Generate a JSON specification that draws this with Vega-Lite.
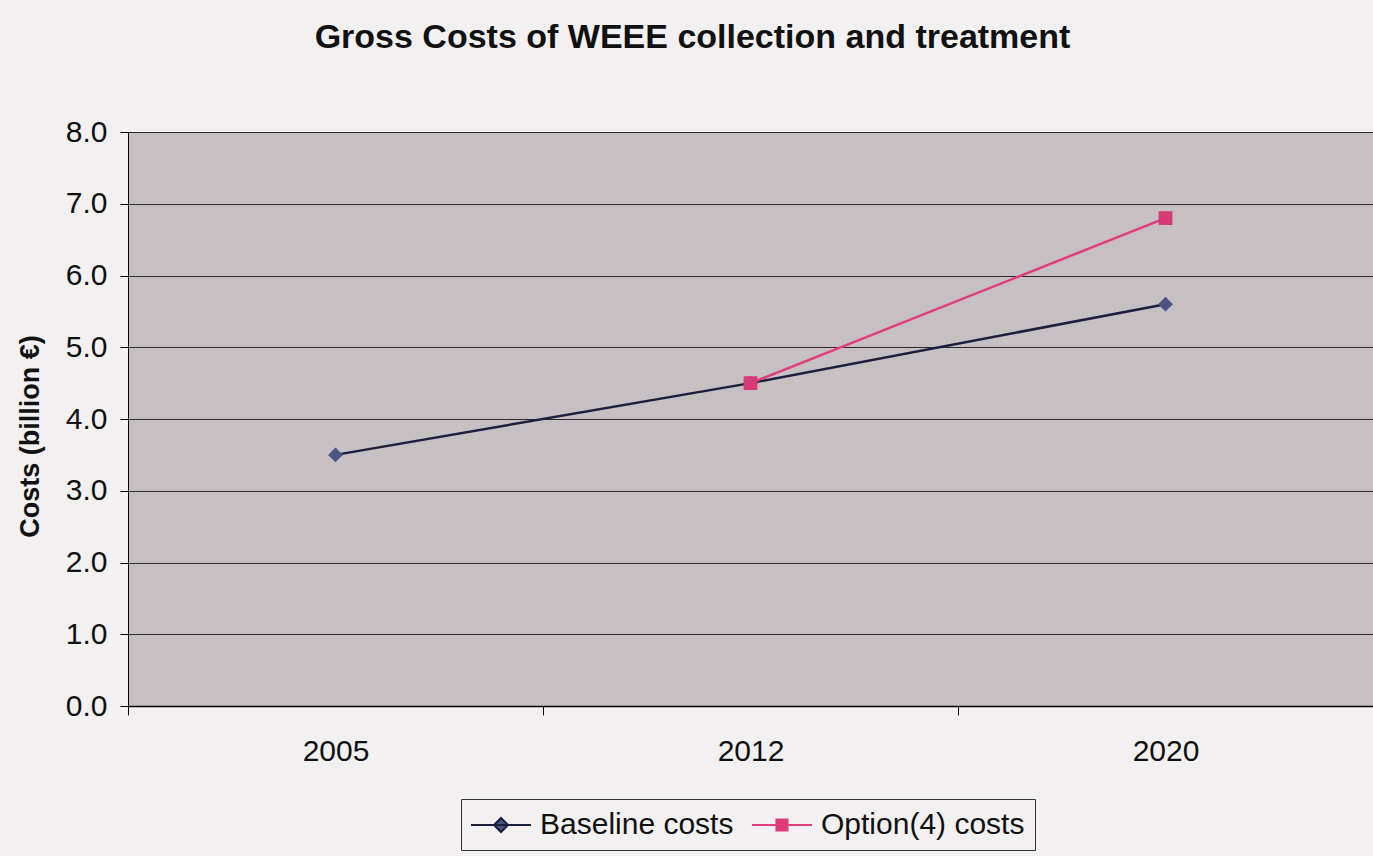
{
  "$schema": "https://vega.github.io/schema/vega-lite/v6.json",
  "width": 1245,
  "height": 574,
  "autosize": {"type": "none"},
  "padding": {"left": 128, "top": 132, "right": 0, "bottom": 150},
  "background": "#f2f0f1",
  "title": {
    "text": "Gross Costs of WEEE collection and treatment",
    "font": "Liberation Sans",
    "fontSize": 34,
    "fontWeight": "bold",
    "color": "#111111",
    "anchor": "middle",
    "frame": "group",
    "dx": -58,
    "offset": 35,
    "baseline": "alphabetic"
  },
  "config": {
    "view": {"fill": "#c6c0c3", "stroke": null},
    "font": "Liberation Sans"
  },
  "data": {
    "values": [
      {"year": "2005", "series": "Baseline costs", "cost": 3.5},
      {"year": "2012", "series": "Baseline costs", "cost": 4.5},
      {"year": "2020", "series": "Baseline costs", "cost": 5.6},
      {"year": "2012", "series": "Option(4) costs", "cost": 4.5},
      {"year": "2020", "series": "Option(4) costs", "cost": 6.8}
    ]
  },
  "encoding": {
    "x": {
      "field": "year",
      "type": "nominal",
      "scale": {"type": "band", "paddingInner": 0, "paddingOuter": 0},
      "axis": {
        "title": null,
        "labelAngle": 0,
        "tickBand": "extent",
        "grid": false,
        "domainColor": "#000000",
        "domainWidth": 1.5,
        "tickColor": "#000000",
        "tickSize": 9,
        "labelPadding": 21,
        "labelFontSize": 30,
        "labelFont": "Liberation Sans",
        "labelColor": "#111111"
      }
    },
    "y": {
      "field": "cost",
      "type": "quantitative",
      "scale": {"domain": [0, 8], "nice": false},
      "axis": {
        "title": "Costs (billion €)",
        "values": [0, 1, 2, 3, 4, 5, 6, 7, 8],
        "format": ".1f",
        "grid": true,
        "gridColor": "#2e2a2c",
        "gridWidth": 1,
        "gridOpacity": 1,
        "domainColor": "#000000",
        "tickColor": "#000000",
        "tickSize": 8,
        "labelPadding": 13,
        "labelFontSize": 30,
        "labelFont": "Liberation Sans",
        "labelColor": "#111111",
        "titleFont": "Liberation Sans",
        "titleFontSize": 27,
        "titleFontWeight": "bold",
        "titleColor": "#111111",
        "titleAngle": 270,
        "titleX": -98,
        "titleY": 304,
        "titleAlign": "center",
        "titleBaseline": "middle"
      }
    }
  },
  "layer": [
    {
      "mark": {"type": "line", "strokeWidth": 2.5},
      "encoding": {
        "color": {
          "field": "series",
          "type": "nominal",
          "scale": {"domain": ["Baseline costs", "Option(4) costs"], "range": ["#1a1f3e", "#e23d7c"]},
          "legend": {
            "orient": "none",
            "legendX": 333,
            "legendY": 667,
            "direction": "horizontal",
            "title": null,
            "padding": 10,
            "strokeColor": "#333333",
            "labelFontSize": 30,
            "labelFont": "Liberation Sans",
            "labelColor": "#111111",
            "labelLimit": 400,
            "symbolSize": 900,
            "symbolStrokeWidth": 2,
            "symbolOffset": 14,
            "labelOffset": 23,
            "columnPadding": 14,
            "encode": {
              "symbols": {
                "update": {
                  "shape": {"signal": "datum.value === 'Baseline costs' ? 'M-2,0H2M0,-0.47L0.47,0L0,0.47L-0.47,0Z' : 'M-2,0H2M-0.37,-0.37H0.37V0.37H-0.37Z'"},
                  "fill": {"signal": "datum.value === 'Baseline costs' ? '#4a5585' : '#d83a78'"},
                  "fillOpacity": {"value": 1},
                  "strokeWidth": {"value": 2}
                }
              }
            }
          }
        }
      }
    },
    {
      "transform": [{"filter": "datum.series === 'Baseline costs'"}],
      "mark": {"type": "point", "filled": true, "opacity": 1, "size": 220, "shape": "diamond", "color": "#4a5585"}
    },
    {
      "transform": [{"filter": "datum.series === 'Option(4) costs'"}],
      "mark": {"type": "point", "filled": true, "opacity": 1, "size": 190, "shape": "square", "color": "#d83a78"}
    }
  ]
}
